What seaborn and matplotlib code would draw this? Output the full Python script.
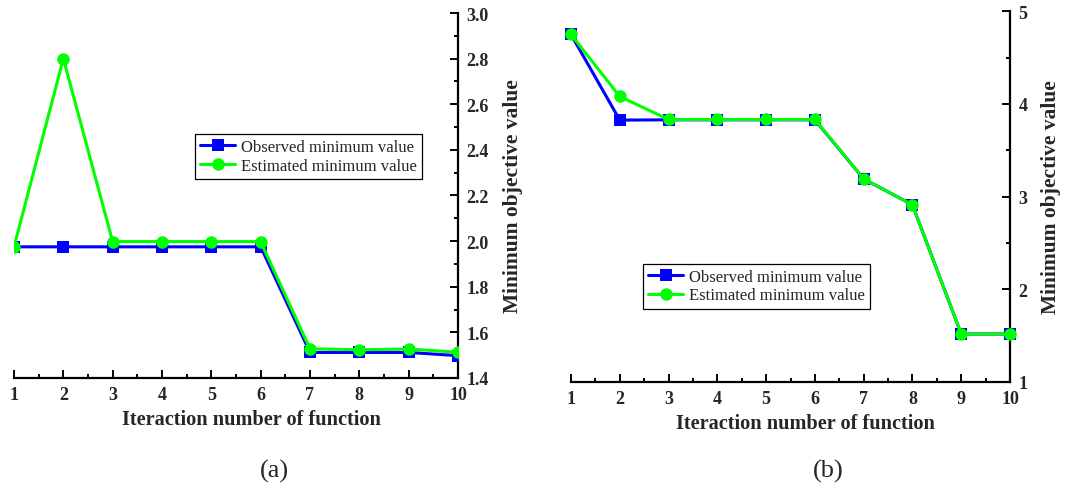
import numpy as np
import matplotlib
matplotlib.use("Agg")
import matplotlib.pyplot as plt
from matplotlib.ticker import MultipleLocator, FormatStrFormatter
from matplotlib.lines import Line2D
import seaborn as sns

iterations = [1, 2, 3, 4, 5, 6, 7, 8, 9, 10]

# panel (a)
observed_a = [1.975, 1.975, 1.975, 1.975, 1.975, 1.975, 1.512, 1.512, 1.512, 1.498]
estimated_a = [1.975, 2.80, 1.998, 1.998, 1.998, 1.998, 1.528, 1.524, 1.527, 1.513]

# panel (b)
observed_b = [4.75, 3.825, 3.828, 3.828, 3.828, 3.828, 3.19, 2.91, 1.515, 1.515]
estimated_b = [4.75, 4.08, 3.832, 3.832, 3.832, 3.832, 3.19, 2.91, 1.515, 1.515]

series_names = ["Observed minimum value", "Estimated minimum value"]
panel_labels = ["(a)", "(b)"]
x_label = "Iteraction number of function"
y_label = "Minimum objective value"

BLUE = "#0000FF"
GREEN = "#00FF00"

sns.set_style("ticks")
plt.rcParams["font.family"] = ["Liberation Serif", "DejaVu Serif"]

W, H = 1078, 489
fig = plt.figure(figsize=(W / 100, H / 100), dpi=100)


def frac_box(x0, x1, y0, y1):
    return [x0 / W, 1 - y1 / H, (x1 - x0) / W, (y1 - y0) / H]


ax_a = fig.add_axes(frac_box(14, 458, 14, 379))
ax_b = fig.add_axes(frac_box(571, 1010, 12.3, 382.7))


def draw_panel(ax, obs, est, ylim, major, minor, fmt, clip, legend_anchor):
    sns.lineplot(x=iterations, y=obs, ax=ax, color=BLUE, marker="s",
                 markersize=8, markeredgewidth=0, linewidth=2.2,
                 clip_on=clip, zorder=3)
    sns.lineplot(x=iterations, y=est, ax=ax, color=GREEN, marker="o",
                 markersize=9, markeredgewidth=0, linewidth=2.2,
                 clip_on=clip, zorder=4)
    ax.set_xlim(1, 10)
    ax.set_ylim(*ylim)
    for s in ("left", "top"):
        ax.spines[s].set_visible(False)
    for s in ("bottom", "right"):
        ax.spines[s].set_linewidth(1.6)
        ax.spines[s].set_color("black")
    ax.yaxis.tick_right()
    ax.yaxis.set_label_position("right")
    ax.xaxis.set_major_locator(MultipleLocator(1))
    ax.xaxis.set_minor_locator(MultipleLocator(0.5))
    ax.yaxis.set_major_locator(MultipleLocator(major))
    ax.yaxis.set_minor_locator(MultipleLocator(minor))
    ax.yaxis.set_major_formatter(FormatStrFormatter(fmt))
    ax.tick_params(which="both", direction="in", width=1.4, color="black")
    ax.tick_params(which="major", length=6, labelsize=13, pad=6)
    ax.tick_params(which="minor", length=3)
    ax.tick_params(axis="y", which="both", left=False, right=True,
                   labelleft=False, labelright=True)
    for lbl in ax.get_xticklabels() + ax.get_yticklabels():
        lbl.set_fontweight("bold")
    ax.set_xlabel(x_label, fontsize=14.6, fontweight="bold")
    ax.xaxis.set_label_coords(0.535, -0.085)
    ax.set_ylabel(y_label, fontsize=15.5, fontweight="bold", labelpad=10,
                  rotation=90)
    ax.grid(False)
    handles = [
        Line2D([], [], color=BLUE, marker="s", markersize=8,
               markeredgewidth=0, linewidth=2.2),
        Line2D([], [], color=GREEN, marker="o", markersize=9,
               markeredgewidth=0, linewidth=2.2),
    ]
    leg = ax.legend(handles, series_names, loc="upper left",
                    bbox_to_anchor=legend_anchor, fontsize=12,
                    frameon=True, fancybox=False, framealpha=1,
                    edgecolor="black", handlelength=2.1, handletextpad=0.35,
                    borderpad=0.3, labelspacing=0.15, borderaxespad=0)
    leg.get_frame().set_linewidth(0.9)


draw_panel(ax_a, observed_a, estimated_a, (1.4, 3.0), 0.2, 0.1, "%.1f",
           True, ((195 - 14) / 444, (379 - 135) / 365))
draw_panel(ax_b, observed_b, estimated_b, (1, 5), 1, 0.5, "%d",
           False, ((643 - 571) / 439, (382.7 - 265) / 370.4))

fig.text(274 / W, 1 - 471 / H, panel_labels[0], ha="center", va="center",
         fontsize=19)
fig.text(828 / W, 1 - 471 / H, panel_labels[1], ha="center", va="center",
         fontsize=19)

fig.savefig("out.png", dpi=100, facecolor="white")
